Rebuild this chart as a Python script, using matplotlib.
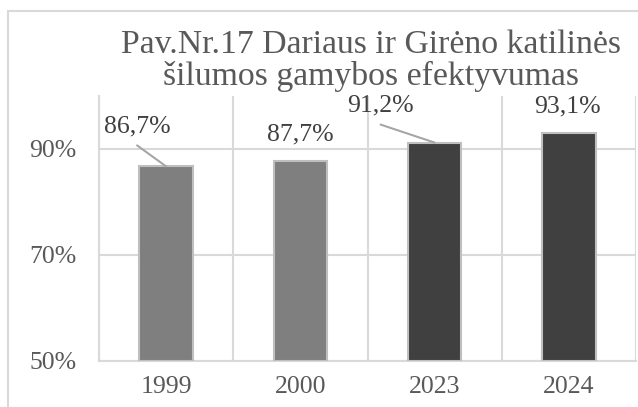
import matplotlib
matplotlib.use("Agg")
import matplotlib.pyplot as plt
from matplotlib.patches import Rectangle

# Duomenys
metai = ['1999', '2000', '2023', '2024']
efektyvumas = [86.7, 87.7, 91.2, 93.1]
etiketes = ['86,7%', '87,7%', '91,2%', '93,1%']
spalvos = ['#7f7f7f', '#7f7f7f', '#404040', '#404040']

# Etikečių poslinkiai (pikseliais nuo stulpelio viršaus) ir ar yra rodyklė
poslinkiai = [(-29, 40), (0, 27), (-54, 37), (-1, 26)]
su_linija = [True, False, True, False]

plt.rcParams['font.family'] = ['Liberation Serif', 'DejaVu Serif']

fig = plt.figure(figsize=(6.38, 4.07), dpi=100)
ax = fig.add_axes([99 / 638, 1 - 360.7 / 407, 537 / 638, 264.7 / 407])

x = range(len(metai))
bars = ax.bar(x, [v - 50 for v in efektyvumas], bottom=50, width=0.40,
              color=spalvos, edgecolor='#bfbfbf', linewidth=1.5, zorder=3)

ax.set_ylim(50, 100)
ax.set_xlim(-0.5, 3.5)
ax.set_yticks([50, 70, 90])
ax.set_yticklabels(['50%', '70%', '90%'])
ax.set_xticks(list(x))
ax.set_xticklabels(metai)
ax.set_xticks([-0.5, 0.5, 1.5, 2.5, 3.5], minor=True)

ax.tick_params(axis='both', which='both', length=0, labelsize=18.5, colors='#595959')
ax.tick_params(axis='y', pad=16)
ax.tick_params(axis='x', pad=11)
ax.grid(axis='y', which='major', color='#d9d9d9', linewidth=1.5, zorder=0)
ax.grid(axis='x', which='minor', color='#d9d9d9', linewidth=1.5, zorder=0)

for s in ['top', 'right']:
    ax.spines[s].set_visible(False)
for s in ['left', 'bottom']:
    ax.spines[s].set_color('#d9d9d9')
    ax.spines[s].set_linewidth(1.5)

for i, v in enumerate(efektyvumas):
    dx, dy = poslinkiai[i]
    ax.annotate(etiketes[i], xy=(i, v), xytext=(dx, dy), textcoords='offset pixels',
                ha='center', va='center', fontsize=18.5, color='#404040',
                annotation_clip=False)
    if su_linija[i]:
        ax.annotate('', xy=(i, v), xytext=(dx, dy - 19), textcoords='offset pixels',
                    arrowprops=dict(arrowstyle='-', color='#a6a6a6', lw=1.5,
                                    shrinkA=0, shrinkB=0))

fig.text(371 / 638, 1 - 61 / 407, 'Pav.Nr.17 Dariaus ir Girėno katilinės\nšilumos gamybos efektyvumas',
         ha='center', va='center', fontsize=24.3, color='#595959', linespacing=1.05)

# Rėmelis
fig.patches.append(Rectangle((8 / 638, -0.1), 1.2, (407 - 11) / 407 + 0.1,
                             transform=fig.transFigure, fill=False,
                             edgecolor='#d9d9d9', linewidth=1.5))

fig.savefig('out.png', dpi=100)
